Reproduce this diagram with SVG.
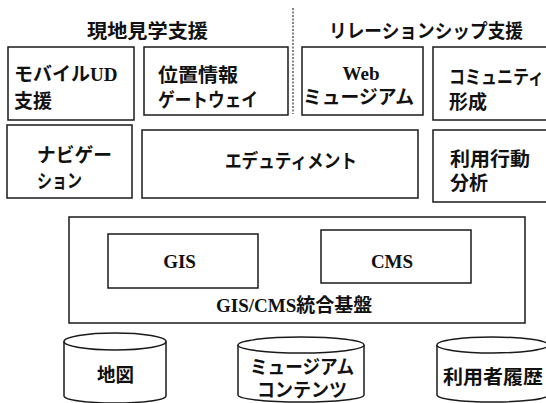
<svg xmlns="http://www.w3.org/2000/svg" width="546" height="403" viewBox="0 0 546 403">
<style>
.b{fill:#fff;stroke:#1a1a1a;stroke-width:1.5}
.j{font-family:"Noto Sans CJK JP","Noto Sans",sans-serif;font-weight:700;font-size:19px;fill:#111}
.s{font-family:"Liberation Serif","Noto Sans CJK JP",serif;font-weight:700;font-size:19px;fill:#111}
.d{fill:none;stroke:#333;stroke-width:1.2;stroke-dasharray:2,1.5}
</style>
<rect width="546" height="403" fill="#fff"/>
<g id="titles">
<text class="j" x="87" y="38" textLength="121" lengthAdjust="spacingAndGlyphs">現地見学支援</text>
<text class="j" x="329" y="38" textLength="194" lengthAdjust="spacingAndGlyphs">リレーションシップ支援</text>
</g>
<g id="connectors">
<line class="d" x1="293" y1="8" x2="293" y2="114"/>
</g>
<g id="mobile">
<rect class="b" x="8" y="47" width="126" height="73"/>
<text class="j" x="14" y="81">モバイル<tspan class="s">UD</tspan></text>
<text class="j" x="14" y="108" textLength="38" lengthAdjust="spacingAndGlyphs">支援</text>
</g>
<g id="location">
<rect class="b" x="144" y="47" width="144" height="68"/>
<text class="j" x="158" y="82" textLength="80" lengthAdjust="spacingAndGlyphs">位置情報</text>
<text class="j" x="158" y="107" textLength="100" lengthAdjust="spacingAndGlyphs">ゲートウェイ</text>
</g>
<g id="web">
<rect class="b" x="302" y="47" width="121" height="68"/>
<text class="s" x="361" y="80" text-anchor="middle">Web</text>
<text class="j" x="303" y="104" textLength="111" lengthAdjust="spacingAndGlyphs">ミュージアム</text>
</g>
<g id="community">
<rect class="b" x="433" y="47" width="120" height="73"/>
<text class="j" x="449" y="84" textLength="95" lengthAdjust="spacingAndGlyphs">コミュニティ</text>
<text class="j" x="449" y="109" textLength="38" lengthAdjust="spacingAndGlyphs">形成</text>
</g>
<g id="navigation">
<rect class="b" x="7" y="125" width="125" height="73"/>
<text class="j" x="37" y="162" textLength="75" lengthAdjust="spacingAndGlyphs">ナビゲー</text>
<text class="j" x="37" y="188" textLength="45" lengthAdjust="spacingAndGlyphs">ション</text>
</g>
<g id="edutainment">
<rect class="b" x="142" y="130" width="276" height="68"/>
<text class="j" x="225" y="168" textLength="132" lengthAdjust="spacingAndGlyphs">エデュティメント</text>
</g>
<g id="behavior">
<rect class="b" x="433" y="130" width="120" height="72"/>
<text class="j" x="450" y="166" textLength="80" lengthAdjust="spacingAndGlyphs">利用行動</text>
<text class="j" x="450" y="190" textLength="38" lengthAdjust="spacingAndGlyphs">分析</text>
</g>
<g id="platform">
<rect class="b" x="69" y="217" width="456" height="106"/>
<text class="s" x="216" y="312">GIS/CMS<tspan class="j" font-size="20">統合基盤</tspan></text>
</g>
<g id="gis">
<rect class="b" x="108" y="234" width="150" height="54"/>
<text class="s" x="179.5" y="268" text-anchor="middle">GIS</text>
</g>
<g id="cms">
<rect class="b" x="321" y="230" width="150" height="53"/>
<text class="s" x="392" y="268" text-anchor="middle">CMS</text>
</g>
<g id="map">
<path class="b" d="M64,341.5 L64,396 A51,7 0 0 0 166,396 L166,341.5"/>
<ellipse class="b" cx="115" cy="341.5" rx="51" ry="8.5"/>
<text class="j" x="97" y="382" textLength="37" lengthAdjust="spacingAndGlyphs">地図</text>
</g>
<g id="contents">
<path class="b" d="M238,345 L238,395 A63,7 0 0 0 364,395 L364,345"/>
<ellipse class="b" cx="301" cy="345" rx="63" ry="8"/>
<text class="j" x="250" y="374" textLength="104" lengthAdjust="spacingAndGlyphs">ミュージアム</text>
<text class="j" x="257" y="397" textLength="90" lengthAdjust="spacingAndGlyphs">コンテンツ</text>
</g>
<g id="history">
<path class="b" d="M437,345 L437,395 A55.5,7 0 0 0 548,395 L548,345"/>
<ellipse class="b" cx="492.5" cy="345" rx="55.5" ry="8"/>
<text class="j" x="443" y="384" textLength="100" lengthAdjust="spacingAndGlyphs">利用者履歴</text>
</g>
</svg>
